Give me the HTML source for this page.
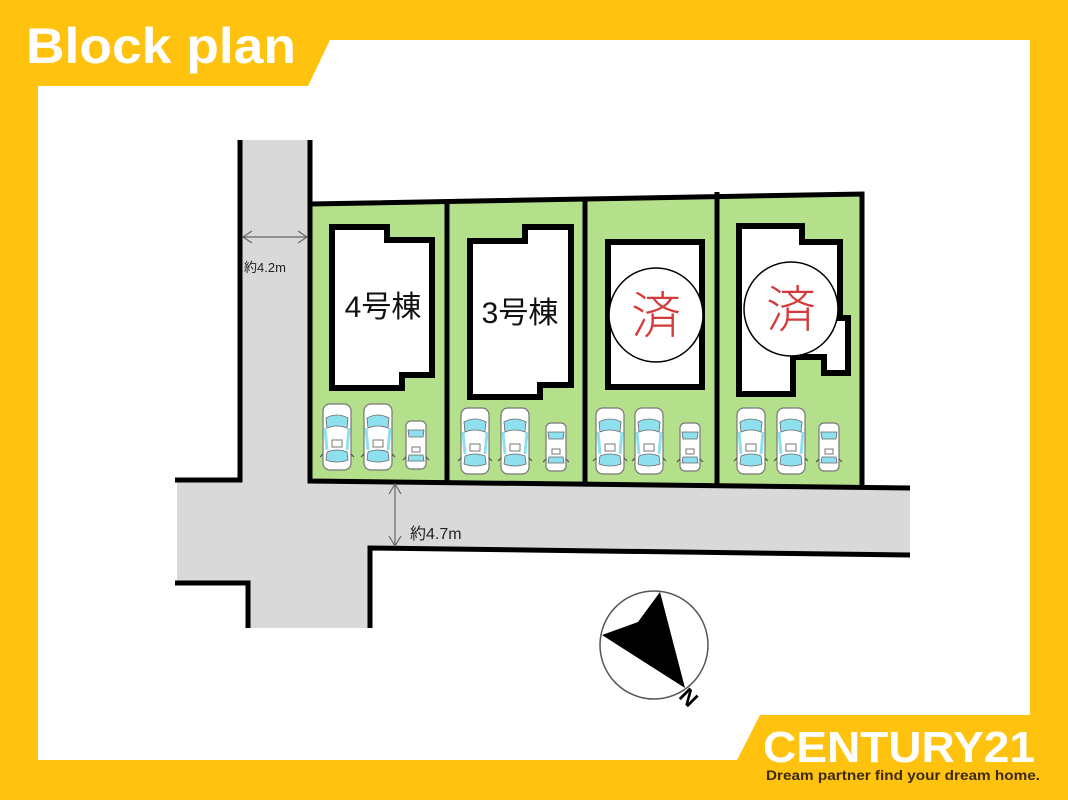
<!DOCTYPE html>
<html><head><meta charset="utf-8"><style>
html,body{margin:0;padding:0;width:1068px;height:800px;overflow:hidden;background:#FFC20E}
svg{display:block}
</style></head><body>
<svg width="1068" height="800" viewBox="0 0 1068 800" xmlns="http://www.w3.org/2000/svg">
<defs>
<g id="car">
<rect x="0" y="0" width="28" height="66" rx="7" fill="#fff" stroke="#777" stroke-width="1.2"/>
<path d="M3,14 Q14,8 25,14 L24,24 Q14,20 4,24 Z" fill="#8fe0ef" stroke="#666" stroke-width="0.8"/>
<path d="M4,48 Q14,44 24,48 L25,56 Q14,60 3,56 Z" fill="#8fe0ef" stroke="#666" stroke-width="0.8"/>
<path d="M2,24 L4,46 M26,24 L24,46" stroke="#8fe0ef" stroke-width="3"/>
<rect x="9" y="36" width="10" height="7" fill="none" stroke="#777" stroke-width="1"/>
<path d="M0,50 l-3,3 M28,50 l3,3" stroke="#444" stroke-width="1"/>
</g>
<g id="scar">
<rect x="0" y="0" width="20" height="48" rx="5" fill="#fff" stroke="#777" stroke-width="1.2"/>
<path d="M2,9 L18,9 L17,16 L3,16 Z" fill="#8fe0ef" stroke="#666" stroke-width="0.8"/>
<path d="M3,34 L17,34 L18,40 L2,40 Z" fill="#8fe0ef" stroke="#666" stroke-width="0.8"/>
<rect x="6" y="26" width="8" height="5" fill="none" stroke="#777" stroke-width="1"/>
<path d="M0,36 l-3,3 M20,36 l3,3" stroke="#444" stroke-width="1"/>
</g>
</defs>
<path d="M330,40 L1030,40 L1030,715 L760,715 L737,760 L38,760 L38,86 L308,86 Z" fill="#fff"/>
<text x="26" y="63" font-family="Liberation Sans, sans-serif" font-weight="bold" font-size="50" fill="#fff" textLength="270" lengthAdjust="spacingAndGlyphs">Block plan</text>

<path d="M240,140 L308,140 L308,481 L910,488 L910,555 L372,548 L372,628 L248,628 L248,583 L177,583 L177,480 L240,480 Z" fill="#d9d9d9"/>
<path d="M310,204 L862,194 L862,487 L310,481 Z" fill="#b5e08b"/>
<g stroke="#000" stroke-width="5" fill="none">
<path d="M240,140 L240,480 L175,480"/>
<path d="M175,583 L248,583 L248,628"/>
<path d="M370,628 L370,548 L910,555"/>
<path d="M310,140 L310,481 L910,488"/>
<path d="M310,204 L862,194 L862,487"/>
<path d="M447,202 L447,483 M585,200 L585,485 M717,192 L717,486"/>
</g>
<g stroke="#000" stroke-width="6" fill="#fff">
<path d="M332,227 L387,227 L387,240 L432,240 L432,375 L402,375 L402,388 L332,388 Z"/>
<path d="M470,241 L525,241 L525,227 L571,227 L571,385 L540,385 L540,397 L470,397 Z"/>
<path d="M608,242 L702,242 L702,387 L608,387 Z"/>
<path d="M739,226 L802,226 L802,242 L840,242 L840,318 L848,318 L848,373 L824,373 L824,357 L793,357 L793,394 L739,394 Z"/>
</g>
<g fill="#fff" stroke="#000" stroke-width="1.5">
<circle cx="656" cy="315" r="47"/>
<circle cx="791" cy="309" r="47"/>
</g>
<g font-family="'Noto Sans CJK JP', sans-serif" font-weight="300" font-size="50" fill="#d43a3a" text-anchor="middle">
<text x="656" y="333">済</text>
<text x="791" y="327">済</text>
</g>
<g font-family="Liberation Sans, 'Noto Sans CJK JP', sans-serif" font-size="30" fill="#111" text-anchor="middle">
<text x="383" y="317">4号棟</text>
<text x="520" y="323">3号棟</text>
</g>
<use href="#car" x="323" y="404"/><use href="#car" x="364" y="404"/><use href="#scar" x="406" y="421"/>
<use href="#car" x="461" y="408"/><use href="#car" x="501" y="408"/><use href="#scar" x="546" y="423"/>
<use href="#car" x="596" y="408"/><use href="#car" x="635" y="408"/><use href="#scar" x="680" y="423"/>
<use href="#car" x="737" y="408"/><use href="#car" x="777" y="408"/><use href="#scar" x="819" y="423"/>
<g stroke="#666" stroke-width="1.2" fill="none">
<path d="M243,237 L307,237 M252,231 L243,237 L252,243 M298,231 L307,237 L298,243"/>
<path d="M395,484 L395,546 M389,494 L395,484 L401,494 M389,536 L395,546 L401,536"/>
</g>
<g font-family="Liberation Sans, 'Noto Sans CJK JP', sans-serif" fill="#222">
<text x="244" y="272" font-size="13">約4.2m</text>
<text x="410" y="539" font-size="16">約4.7m</text>
</g>
<circle cx="654" cy="645" r="54" fill="#fff" stroke="#555" stroke-width="1.5"/>
<path d="M660,592 L685,688 L602,635 L638,622 Z" fill="#000"/>
<text x="0" y="0" font-family="Liberation Sans, sans-serif" font-weight="bold" font-size="22" fill="#000" text-anchor="middle" transform="translate(694,692) rotate(-135)">N</text>
<text x="763" y="762" font-family="Liberation Sans, sans-serif" font-weight="bold" font-size="44" fill="#fff" textLength="272" lengthAdjust="spacingAndGlyphs">CENTURY21</text>
<text x="766" y="780" font-family="Liberation Sans, sans-serif" font-weight="bold" font-size="13.5" fill="#3b2a0c" textLength="274" lengthAdjust="spacingAndGlyphs">Dream partner find your dream home.</text>
</svg>
</body></html>
